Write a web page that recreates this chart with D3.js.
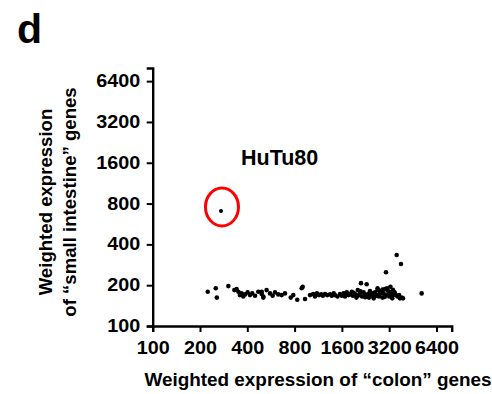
<!DOCTYPE html>
<html>
<head>
<meta charset="utf-8">
<script src="https://cdn.jsdelivr.net/npm/d3@7"></script>
<style>
  html, body { margin: 0; padding: 0; background: #fff; }
  svg { display: block; font-family: Arial, "Liberation Sans", sans-serif; }
</style>
</head>
<body>
<svg id="chart"></svg>
<script>
// tick values (both axes, log2)
const tickValues = [100, 200, 400, 800, 1600, 3200, 6400];

// weighted expression of "colon" genes per cell line
const colonExpr = [
  224, 252, 256, 303, 331, 342, 351, 359, 368, 377, 387, 402, 416, 430, 448, 470,
  494, 506, 494, 506, 531, 558, 580, 600, 630, 662, 695, 756, 785, 832, 888, 901, 932,
  1003, 1050, 1079, 1110, 1144, 1180, 1210, 1249, 1290, 1344, 1380, 1420, 1446, 1500,
  1556, 1600, 1640, 1675, 1720, 1760, 1801, 1850, 1880, 1939, 1980, 2020, 2060, 2086,
  2116, 2150, 2200, 2245, 2301, 2350, 2380, 2415, 2450, 2500, 2550, 2599, 2650, 2700,
  2750, 2797, 2850, 2900, 2950, 3010, 3053, 3100, 3150, 3200, 3238, 3300, 3350, 3400,
  3485, 3571, 3620, 3700, 3803, 3850, 3918, 5150,
  1700, 1900, 2000, 2100, 2250, 2400, 2600, 2800, 3000, 3300, 2900, 3100, 2700, 3260,
  3380, 3450, 3600, 3750
];

// weighted expression of "small intestine" genes per cell line
const smallIntExpr = [
  179, 190, 162, 197, 184, 187, 179, 169, 174, 165, 171, 177, 169, 174, 167, 179,
  172, 165, 179, 162, 184, 174, 167, 177, 171, 169, 174, 162, 169, 156, 190, 195, 158,
  169, 172, 165, 174, 169, 171, 167, 172, 169, 171, 167, 174, 169, 165,
  172, 167, 174, 165, 177, 169, 171, 179, 167, 172, 162, 184, 169, 174,
  207, 165, 177, 169, 203, 172, 162, 181, 167, 174, 160, 177, 169, 184,
  165, 172, 179, 162, 174, 187, 249, 169, 181, 165, 177, 172, 160, 169,
  174, 334, 165, 169, 287, 162, 160, 174,
  170, 176, 167, 180, 163, 175, 166, 180, 164, 178, 186, 190, 190, 195,
  185, 178, 167, 160
];

// highlighted cell line
const hutu = { name: "HuTu80", colon: 272, small: 706 };

const width = 492, height = 394;

const svg = d3.select("#chart")
  .attr("width", width)
  .attr("height", height);

const x = d3.scaleLog().base(2).domain([100, 8000]).range([152.7, 451.7]);
const y = d3.scaleLog().base(2).domain([100, 8000]).range([326, 68]);

// panel letter
svg.append("text")
  .attr("x", 17)
  .attr("y", 43)
  .attr("font-size", 41)
  .attr("font-weight", "bold")
  .text("d");

// axes
const xAxis = svg.append("g")
  .attr("transform", `translate(0,${y(100)})`)
  .call(d3.axisBottom(x).tickValues(tickValues).tickFormat(d3.format("d")).tickSizeOuter(0).tickSize(6).tickPadding(4));

const yAxis = svg.append("g")
  .attr("transform", `translate(${x(100)},0)`)
  .call(d3.axisLeft(y).tickValues(tickValues).tickFormat(d3.format("d")).tickSizeOuter(0).tickSize(6).tickPadding(5));

[xAxis, yAxis].forEach(g => {
  g.select(".domain").attr("stroke", "#000").attr("stroke-width", 2.4);
  g.selectAll(".tick line").attr("stroke", "#000").attr("stroke-width", 2);
  g.selectAll(".tick text")
    .attr("fill", "#000")
    .attr("font-size", 17.5)
    .attr("font-weight", "bold")
    .attr("font-family", "Arial, 'Liberation Sans', sans-serif");
});
xAxis.selectAll(".tick text").attr("transform", "scale(1.13,1)").attr("dy", "1.05em");
yAxis.selectAll(".tick text").attr("transform", "scale(1.13,1)");

// axis titles
svg.append("text")
  .attr("x", 318)
  .attr("y", 386)
  .attr("text-anchor", "middle")
  .attr("font-size", 18.9)
  .attr("font-weight", "bold")
  .text("Weighted expression of \u201ccolon\u201d genes");

const yTitle = svg.append("text")
  .attr("transform", "translate(0,202) rotate(-90)")
  .attr("text-anchor", "middle")
  .attr("font-size", 18.6)
  .attr("font-weight", "bold");
yTitle.append("tspan").attr("x", 0).attr("y", 52).text("Weighted expression");
yTitle.append("tspan").attr("x", 0).attr("y", 76).text("of \u201csmall intestine\u201d genes");

// points
const points = colonExpr.map((c, i) => ({ colon: c, small: smallIntExpr[i] }));

svg.append("g")
  .selectAll("circle")
  .data(points)
  .join("circle")
  .attr("cx", d => x(d.colon))
  .attr("cy", d => y(d.small))
  .attr("r", 2.3)
  .attr("fill", "#000");

// highlighted HuTu80
svg.append("circle")
  .attr("cx", x(hutu.colon))
  .attr("cy", y(hutu.small))
  .attr("r", 2)
  .attr("fill", "#000");

svg.append("ellipse")
  .attr("cx", x(hutu.colon) + 1)
  .attr("cy", y(hutu.small) - 4)
  .attr("rx", 16.5)
  .attr("ry", 19)
  .attr("fill", "none")
  .attr("stroke", "#ff0000")
  .attr("stroke-width", 3);

svg.append("text")
  .attr("x", 241)
  .attr("y", 165)
  .attr("font-size", 21.5)
  .attr("font-weight", "bold")
  .text(hutu.name);
</script>
</body>
</html>
